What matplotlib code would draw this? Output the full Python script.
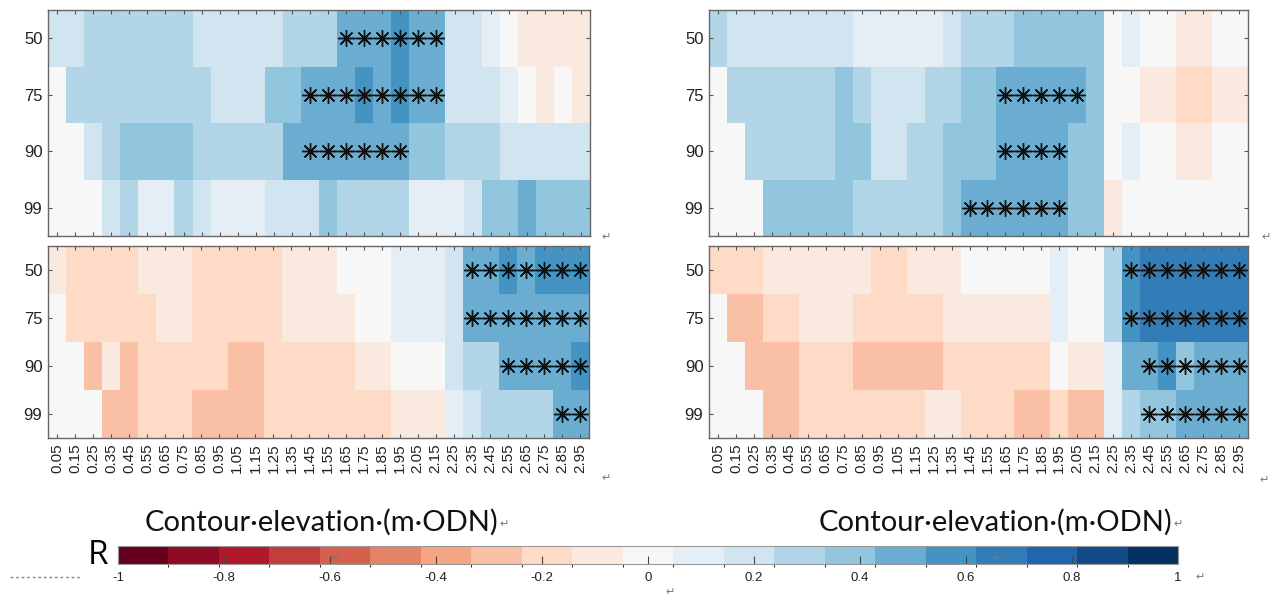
import numpy as np
import matplotlib
matplotlib.use('Agg')
import matplotlib.pyplot as plt
from matplotlib.colors import BoundaryNorm
from matplotlib.cm import ScalarMappable
from matplotlib.lines import Line2D

plt.rcParams['font.family'] = ['Liberation Sans', 'DejaVu Sans']

# contour elevations (m ODN) and percentile rows
elev = [0.05, 0.15, 0.25, 0.35, 0.45, 0.55, 0.65, 0.75, 0.85, 0.95,
        1.05, 1.15, 1.25, 1.35, 1.45, 1.55, 1.65, 1.75, 1.85, 1.95,
        2.05, 2.15, 2.25, 2.35, 2.45, 2.55, 2.65, 2.75, 2.85, 2.95]
pct = ['50', '75', '90', '99']

# correlation R, one row per percentile
tl_R = [
    [.19, .19, .29, .29, .29, .29, .29, .29, .19, .19, .19, .19, .19, .29, .29, .29, .48, .48, .48, .57, .48, .48, .19, .19, .1, 0, -.1, -.1, -.1, -.1],
    [0, .29, .29, .29, .29, .29, .29, .29, .29, .19, .19, .19, .38, .38, .48, .48, .48, .57, .48, .57, .48, .48, .19, .19, .19, .1, 0, -.1, 0, -.1],
    [0, 0, .19, .29, .38, .38, .38, .38, .29, .29, .29, .29, .29, .48, .48, .48, .48, .48, .48, .48, .38, .38, .29, .29, .29, .19, .19, .19, .19, .19],
    [0, 0, 0, .19, .29, .1, .1, .29, .19, .1, .1, .1, .19, .19, .19, .38, .29, .29, .29, .29, .1, .1, .1, .19, .38, .38, .48, .38, .38, .38],
]
tr_R = [
    [.29, .19, .19, .19, .19, .19, .19, .19, .1, .1, .1, .1, .1, .19, .29, .29, .29, .38, .38, .38, .38, .38, 0, .1, 0, 0, -.1, -.1, 0, 0],
    [0, .29, .29, .29, .29, .29, .29, .38, .29, .19, .19, .19, .29, .29, .38, .38, .48, .48, .48, .48, .48, .38, 0, 0, -.1, -.1, -.19, -.19, -.1, -.1],
    [0, 0, .29, .29, .29, .29, .29, .38, .38, .19, .19, .29, .29, .38, .38, .38, .48, .48, .48, .48, .38, .38, 0, .1, 0, 0, -.1, -.1, 0, 0],
    [0, 0, 0, .38, .38, .38, .38, .38, .29, .29, .29, .29, .29, .38, .48, .48, .48, .48, .48, .48, .38, .38, -.1, 0, 0, 0, 0, 0, 0, 0],
]
bl_R = [
    [-.1, -.19, -.19, -.19, -.19, -.1, -.1, -.1, -.19, -.19, -.19, -.19, -.19, -.1, -.1, -.1, 0, 0, 0, .1, .1, .1, .19, .48, .48, .57, .48, .57, .57, .57],
    [0, -.19, -.19, -.19, -.19, -.19, -.1, -.1, -.19, -.19, -.19, -.19, -.19, -.1, -.1, -.1, -.1, 0, 0, .1, .1, .1, .19, .48, .48, .48, .48, .48, .48, .48],
    [0, 0, -.29, -.1, -.29, -.19, -.19, -.19, -.19, -.19, -.29, -.29, -.19, -.19, -.19, -.19, -.19, -.1, -.1, 0, 0, 0, .19, .29, .29, .48, .48, .48, .48, .57],
    [0, 0, 0, -.29, -.29, -.19, -.19, -.19, -.29, -.29, -.29, -.29, -.19, -.19, -.19, -.19, -.19, -.19, -.19, -.1, -.1, -.1, .1, .19, .29, .29, .29, .29, .48, .48],
]
br_R = [
    [-.19, -.19, -.19, -.1, -.1, -.1, -.1, -.1, -.1, -.19, -.19, -.1, -.1, -.1, 0, 0, 0, 0, 0, .1, 0, 0, .29, .57, .67, .67, .67, .67, .67, .67],
    [0, -.29, -.29, -.19, -.19, -.1, -.1, -.1, -.19, -.19, -.19, -.19, -.19, -.1, -.1, -.1, -.1, -.1, -.1, .1, 0, 0, .29, .57, .67, .67, .67, .67, .67, .67],
    [0, 0, -.29, -.29, -.29, -.19, -.19, -.19, -.29, -.29, -.29, -.29, -.29, -.19, -.19, -.19, -.19, -.19, -.19, 0, -.1, -.1, .1, .48, .48, .57, .38, .48, .48, .48],
    [0, 0, 0, -.29, -.29, -.19, -.19, -.19, -.19, -.19, -.19, -.19, -.1, -.1, -.19, -.19, -.19, -.29, -.29, -.19, -.29, -.29, .1, .29, .38, .38, .48, .48, .48, .48],
]

# significant runs: (percentile, first elevation, last elevation)
tl_sig = [('50', 1.65, 2.15), ('75', 1.45, 2.15), ('90', 1.45, 1.95)]
tr_sig = [('75', 1.65, 2.05), ('90', 1.65, 1.95), ('99', 1.45, 1.95)]
bl_sig = [('50', 2.35, 2.95), ('75', 2.35, 2.95), ('90', 2.55, 2.95), ('99', 2.85, 2.95)]
br_sig = [('50', 2.35, 2.95), ('75', 2.35, 2.95), ('90', 2.45, 2.95), ('99', 2.45, 2.95)]

cb_ticks = [-1, -0.8, -0.6, -0.4, -0.2, 0, 0.2, 0.4, 0.6, 0.8, 1]
cb_labels = ['-1', '-0.8', '-0.6', '-0.4', '-0.2', '0', '0.2', '0.4', '0.6', '0.8', '1']

cmap = plt.get_cmap('RdBu', 21)
norm = BoundaryNorm(np.linspace(-1, 1, 22), 21)

W, H = 1270, 600
fig = plt.figure(figsize=(W / 100, H / 100), dpi=100)


def px_axes(x0, y0, x1, y1):
    return fig.add_axes([x0 / W, 1 - y1 / H, (x1 - x0) / W, (y1 - y0) / H])


edges = np.append(np.array(elev) - 0.05, elev[-1] + 0.05)
panels = [
    (px_axes(48, 10, 590, 236), tl_R, tl_sig, False),
    (px_axes(709, 10, 1248, 236), tr_R, tr_sig, False),
    (px_axes(48, 246, 589, 438), bl_R, bl_sig, True),
    (px_axes(709, 246, 1248, 438), br_R, br_sig, True),
]
ast = (8, 2, 0)
for ax, R, sig, bottom in panels:
    ax.pcolormesh(edges, np.arange(5) - 0.5, np.array(R), cmap=cmap, norm=norm)
    for row, a, b in sig:
        xs = [e for e in elev if a - 1e-6 <= e <= b + 1e-6]
        ax.plot(xs, [pct.index(row)] * len(xs), color='#111', lw=0.9,
                marker=ast, ms=12, mew=1.0)
    ax.set_xlim(edges[0], edges[-1])
    ax.set_ylim(3.5, -0.5)
    ax.set_yticks(range(4))
    ax.set_yticklabels(pct, fontsize=12, color='#222')
    ax.set_xticks(elev)
    if bottom:
        ax.set_xticklabels(['%.2f' % e for e in elev], rotation=90, fontsize=11,
                           color='#222')
    else:
        ax.set_xticklabels([])
    ax.tick_params(direction='in', top=True, right=True, length=3, width=0.8,
                   color='#555', pad=4)
    for s in ax.spines.values():
        s.set_color('#666')
        s.set_linewidth(1)

# x labels
for xc in (322, 996):
    fig.text(xc / W, 1 - 522 / H, 'Contour·elevation·(m·ODN)', ha='center', va='center',
             fontsize=21, family=['Lato', 'DejaVu Sans'], color='#111')

# colour bar
cax = px_axes(118, 546, 1178, 564)
cb = fig.colorbar(ScalarMappable(norm=norm, cmap=cmap), cax=cax,
                  orientation='horizontal', ticks=cb_ticks)
cb.set_ticklabels(cb_labels)
cax.tick_params(direction='in', length=6, width=0.8, color='#444', labelsize=9.5,
                pad=6, labelcolor='#222')
cb.outline.set_edgecolor('#999')
fig.text(98 / W, 1 - 556 / H, 'R', ha='center', va='center', fontsize=24,
         family=['Open Sans', 'DejaVu Sans'])
fig.add_artist(Line2D([10 / W, 80 / W], [1 - 577 / H] * 2, color='#888',
                      lw=1, ls=(0, (2, 2))))

# word return marks
for x, y in [(606, 478), (1264, 480), (504, 524), (1178, 524), (334, 558),
             (998, 558), (1200, 577), (670, 592), (606, 237), (1266, 237)]:
    fig.text(x / W, 1 - y / H, '↵', ha='center', va='center', fontsize=8,
             color='#777', family=['DejaVu Sans'])

fig.savefig('out.png', dpi=100)
